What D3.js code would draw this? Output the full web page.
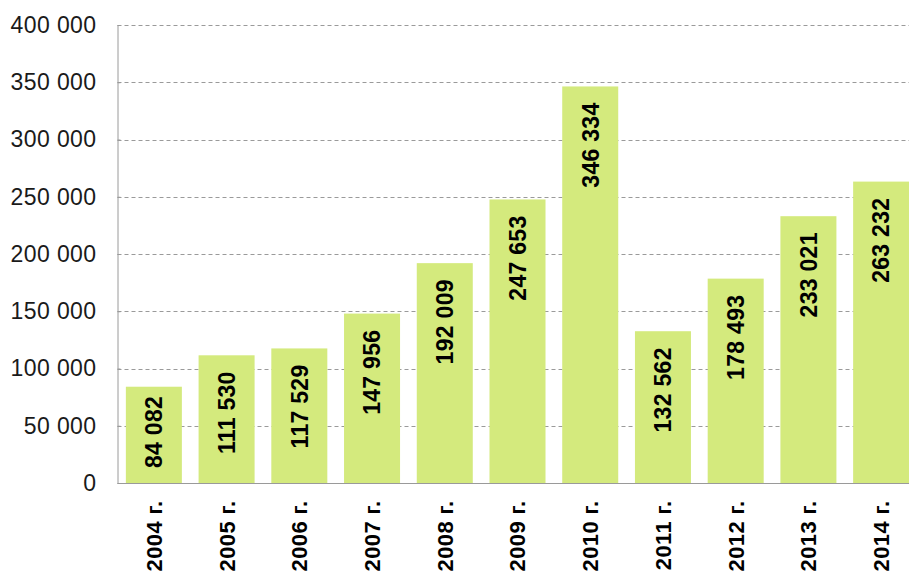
<!DOCTYPE html>
<html>
<head>
<meta charset="utf-8">
<script src="https://cdn.jsdelivr.net/npm/d3@7"></script>
<style>
  html, body { margin: 0; padding: 0; background: #fff; overflow: hidden; }
  svg { display: block; font-family: "Liberation Sans", Arial, sans-serif; }
</style>
</head>
<body>
<div id="chart"></div>
<script>
// Data
const years = ['2004 г.', '2005 г.', '2006 г.', '2007 г.', '2008 г.', '2009 г.',
               '2010 г.', '2011 г.', '2012 г.', '2013 г.', '2014 г.'];
const values = [84082, 111530, 117529, 147956, 192009, 247653,
                346334, 132562, 178493, 233021, 263232];
const yTicks = [0, 50000, 100000, 150000, 200000, 250000, 300000, 350000, 400000];

const width = 909, height = 575;
const margin = { top: 25, left: 117.5, bottom: 483, right: 917.5 };

const fmt = v => d3.format(',')(v).replace(/,/g, ' ');

const svg = d3.select('#chart')
  .append('svg')
  .attr('width', width)
  .attr('height', height);

const x = d3.scaleBand()
  .domain(years)
  .range([margin.left, margin.right])
  .paddingInner(0.23)
  .paddingOuter(0.115);

const y = d3.scaleLinear()
  .domain([0, 400000])
  .range([margin.bottom, margin.top]);

// Gridlines
svg.append('g')
  .selectAll('line')
  .data(yTicks.filter(d => d > 0))
  .join('line')
  .attr('x1', margin.left)
  .attr('x2', width)
  .attr('y1', d => Math.round(y(d)) + 0.5)
  .attr('y2', d => Math.round(y(d)) + 0.5)
  .attr('stroke', '#9a9a9a')
  .attr('stroke-width', 1)
  .attr('stroke-dasharray', '4,3');

// Bars
svg.append('g')
  .selectAll('rect')
  .data(values)
  .join('rect')
  .attr('x', (d, i) => x(years[i]))
  .attr('y', d => y(d))
  .attr('width', x.bandwidth())
  .attr('height', d => y(0) - y(d))
  .attr('fill', '#d4ea7d');

// Y axis
const yAxis = svg.append('g')
  .attr('transform', `translate(${margin.left},0)`)
  .call(d3.axisLeft(y).tickValues(yTicks).tickFormat(fmt).tickSize(-3).tickPadding(21));
yAxis.select('.domain').attr('stroke', '#9a9a9a');
yAxis.selectAll('.tick line').attr('stroke', '#9a9a9a');
yAxis.selectAll('.tick text')
  .attr('fill', '#1a1a1a')
  .style('font-size', '23px')
  .style('letter-spacing', '0.4px');

// X axis baseline
const xAxis = svg.append('g')
  .attr('transform', `translate(0,${Math.round(y(0)) + 0.5})`)
  .call(d3.axisBottom(x).tickSize(0).tickPadding(0));
xAxis.select('.domain').attr('stroke', '#9a9a9a').attr('d', `M${margin.left},0H${width}`);
xAxis.selectAll('.tick text')
  .attr('transform', 'translate(0,17) rotate(-90)')
  .attr('text-anchor', 'end')
  .attr('dy', '0.36em')
  .attr('x', 0)
  .attr('y', 0)
  .attr('fill', '#000')
  .style('font-size', '22px')
  .style('font-weight', 'bold')
  .style('letter-spacing', '0.4px');

// Value labels, rotated, near the top of each bar
const labels = svg.append('g')
  .selectAll('text')
  .data(values)
  .join('text')
  .attr('text-anchor', 'end')
  .attr('dy', '0.36em')
  .style('font-size', '23px')
  .style('font-weight', 'bold')
  .style('letter-spacing', '0.3px')
  .attr('fill', '#000')
  .text(d => fmt(d));

labels.each(function(d, i) {
  const len = this.getComputedTextLength();
  const cx = x(years[i]) + x.bandwidth() / 2;
  const endY = Math.min(y(d) + 16, y(0) - 15 - len);
  d3.select(this).attr('transform', `translate(${cx},${endY}) rotate(-90)`);
});
</script>
</body>
</html>
